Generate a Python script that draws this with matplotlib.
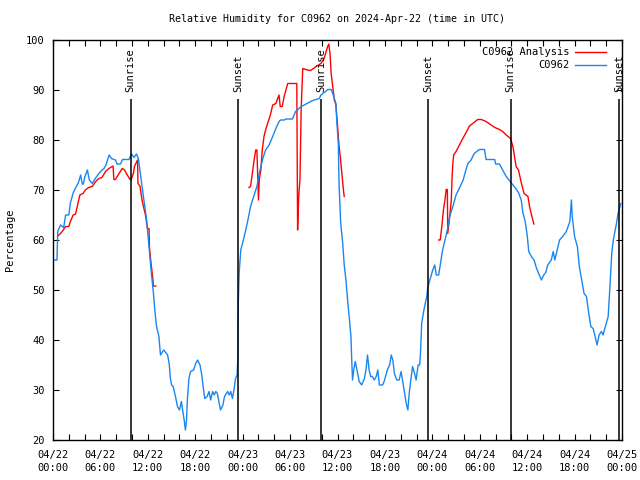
import numpy as np
import matplotlib
matplotlib.use('Agg')
import matplotlib.pyplot as plt

nan = np.nan

# hours after 04/22 00:00 UTC, observed relative humidity (%)
obs_hours = [0.2, 0.5, 0.6, 0.95, 1.35, 1.6, 2.0, 2.2, 2.55, 2.85, 3.2, 3.5, 3.7, 3.85, 4.0, 4.35, 4.6,
             4.97, 5.3, 5.8, 6.2, 6.45, 6.7, 7.1, 7.4, 7.9, 8.1, 8.55, 8.8, 9.6, 9.95, 10.25, 10.55, 10.8,
             11.1, 11.5, 11.85, 12.15, 12.45, 12.7, 12.9, 13.1, 13.4, 13.6, 14.0, 14.5, 14.7, 14.85, 15.0,
             15.2, 15.5, 15.75, 16.0, 16.25, 16.4, 16.6, 16.75, 16.9, 17.0, 17.2, 17.4, 17.8, 18.05, 18.3,
             18.6, 18.8, 19.0, 19.2, 19.5, 19.75, 19.95, 20.2, 20.4, 20.6, 20.8, 21.0, 21.2, 21.5, 21.7,
             22.1, 22.3, 22.5, 22.7, 22.9, 23.1, 23.3, 23.42, 23.45, 23.55, 23.76, 24.2, 24.6, 25.0, 25.45,
             25.8, 26.1, 26.5, 26.9, 27.35, 27.8, 28.2, 28.6, 28.8, 29.25, 29.5, 30.3, 30.7, 31.4, 31.8,
             32.6, 33.05, 33.7, 33.9, 34.5, 34.75, 35.2, 35.4, 35.8, 35.9, 36.1, 36.2, 36.4, 36.65, 36.85,
             37.07, 37.3, 37.5, 37.7, 37.8, 37.9, 38.05, 38.25, 38.55, 38.75, 39.06, 39.4, 39.6, 39.8, 40.0,
             40.2, 40.4, 40.65, 40.9, 41.1, 41.3, 41.7, 41.9, 42.3, 42.6, 42.8, 43.0, 43.2, 43.5, 43.8,
             44.05, 44.25, 44.5, 44.7, 44.9, 45.1, 45.3, 45.5, 45.75, 45.95, 46.2, 46.4, 46.5, 46.65, 46.9,
             47.1, 47.3, 47.4, 47.6, 48.05, 48.3, 48.5, 48.8, 49.1, 49.3, 49.5, 49.9, 50.2, 50.6, 51.0,
             51.4, 51.9, 52.3, 52.5, 52.9, 53.3, 53.95, 54.6, 54.8, 55.9, 56.0, 56.5, 56.9, 57.35, 57.8,
             58.2, 58.6, 58.9, 59.25, 59.45, 59.75, 60.0, 60.2, 60.5, 60.9, 61.15, 61.4, 61.6, 61.8, 62.1,
             62.35, 62.6, 63.05, 63.3, 63.5, 63.8, 64.1, 64.5, 64.95, 65.4, 65.6, 65.7, 66.0, 66.35, 66.6,
             66.9, 67.2, 67.5, 67.8, 68.05, 68.35, 68.55, 68.85, 69.1, 69.4, 69.6, 69.9, 70.25, 70.45,
             70.7, 70.9, 71.3, 71.5, 71.85]
obs_rh = [56, 56, 61.7, 63, 62.5, 65, 65, 67.4, 69.4, 70.4, 71.4, 73, 71.2, 71.2, 72.5, 74, 72,
          71.3, 72.2, 73.3, 74, 74.3, 75, 77, 76.3, 76, 75.2, 75.2, 76.1, 76.1, 77.2, 76.5, 77.2, 76.3,
          72.7, 68, 64, 58.7, 53.3, 49.5, 45.7, 42.7, 40.7, 37, 38, 37, 35.3, 32.4, 31,
          30.7, 28.7, 26.7, 26, 27.7, 26, 24, 22, 24, 28, 32.3, 33.7, 34, 35.3, 36,
          35, 33.3, 30.7, 28.3, 28.7, 29.7, 28, 29.7, 29, 29.7, 29.3, 27.7, 26, 27, 28.7,
          29.7, 29, 29.7, 28.3, 30, 32.3, 33, 38, 47.5, 53.3, 58, 60.7, 63.5, 66.7, 69,
          70.7, 73.3, 76, 78, 79, 80.7, 82.3, 83.7, 84, 84, 84.2, 84.2, 85.7, 86.7, 87,
          87.7, 88, 88.3, 89, 89.7, 90.1, 90.1, 89.3, 87.3, 84, 79.3, 71, 63.5, 59.5, 55,
          52, 47.5, 44.3, 40.7, 36, 32, 34, 35.7, 33.3, 31.7, 31, 32.3, 34, 37, 34,
          32.7, 32.7, 32, 32.7, 34, 31, 31, 31.7, 34, 35, 37, 36, 33.3, 32, 32,
          33.7, 31.7, 29.3, 27.3, 26, 29.7, 32.3, 34.7, 33.3, 32, 35, 35, 37.3, 43.3, 45.7,
          47.3, 48.7, 50.3, 51.5, 54, 55, 53, 53, 56, 58, 59.3, 62, 64.7, 66.7, 69,
          70.3, 72, 74.3, 75.3, 76, 77.3, 78.1, 78.1, 76.1, 76.1, 75.2, 75.2, 74, 72.7, 71.8,
          71, 70.2, 69.5, 68, 65.5, 63.7, 61, 57.7, 56.8, 55.9, 54.5, 53.5, 52.8, 52, 53,
          53.5, 55, 56, 57.7, 56, 58, 60, 60.7, 61.7, 63.7, 68, 64.7, 60.7, 58.7, 54.7,
          52, 49.3, 48.7, 45.3, 42.7, 42.3, 41, 39, 41, 41.7, 41, 42.7, 44.7, 50,
          57.3, 60, 63.3, 65.3, 67.3]

# analysis (NaN separates the three runs)
ana_hours = [0.6, 0.95, 1.3, 1.58, 2.0, 2.2, 2.55, 2.85, 3.07, 3.4, 3.8, 4.1, 4.5, 4.97, 5.4, 5.8, 6.2,
             6.65, 7.07, 7.6, 7.7, 7.9, 8.35, 8.77, 9.06, 9.4, 9.75, 9.9, 10.2, 10.3, 10.6, 10.7, 10.75,
             11.0, 11.3, 11.6, 11.7, 11.95, 12.15, 12.2, 12.36, 12.5, 12.65, 12.7, 13.0, nan,
             24.8, 25.0, 25.25, 25.45, 25.65, 25.8, 25.9, 26.0, 26.1, 26.3, 26.5, 26.7, 26.9, 27.15,
             27.5, 27.8, 28.2, 28.6, 28.75, 29.0, 29.25, 29.7, 30.85, 30.95, 31.1, 31.25, 31.4, 31.6,
             32.2, 32.6, 33.3, 33.9, 34.3, 34.75, 34.9, 35.05, 35.2, 35.4, 35.6, 35.8, 36.0, 36.2,
             36.35, 36.55, 36.75, 36.85, nan,
             48.8, 49.0, 49.2, 49.4, 49.6, 49.75, 49.9, 49.95, 50.15, 50.4, 50.5, 50.6, 50.7, 51.0,
             51.2, 51.65, 52.1, 52.7, 53.1, 53.75, 54.2, 54.8, 55.45, 55.9, 56.5, 56.9, 57.35, 57.9,
             58.2, 58.6, 58.9, 59.25, 59.6, 60.1, 60.3, 60.6, 60.85]
ana_rh = [60.8, 61.3, 62, 62.7, 62.7, 63.7, 65, 65.2, 66.7, 69, 69.3, 70, 70.5, 70.7, 71.7, 72.3, 72.5,
          73.7, 74.3, 74.8, 72.1, 72.1, 73.3, 74.3, 74, 73, 72.1, 72.1, 73.5, 74.7, 75.7, 76, 71.3,
          70.8, 67.7, 65.7, 65, 62.3, 62.3, 58.7, 56, 54, 52, 50.8, 50.8, nan,
          70.5, 70.7, 73.7, 76, 78, 78, 72.7, 68, 72, 74, 78.3, 80.7, 82, 83.3,
          85, 87, 87.3, 89, 86.7, 86.7, 88.7, 91.3, 91.3, 62, 69, 72, 86, 94.3,
          94, 93.9, 94.7, 95.3, 96.3, 98.7, 99.2, 97.3, 93.3, 90.7, 88, 87, 83, 78.7,
          76.7, 73.3, 70, 68.7, nan,
          60, 60, 62.7, 66, 68, 70.1, 70.1, 61.3, 64, 68, 72.7, 75.3, 77, 77.7,
          78.3, 79.7, 81, 82.8, 83.3, 84.1, 84.1, 83.7, 83, 82.5, 82.1, 81.7, 81, 80.3,
          78.7, 74.7, 74, 71.5, 69.3, 68.7, 66.7, 64.7, 63.2]

sunrise_hours = [9.82, 33.9, 57.92]
sunset_hours = [23.42, 47.48, 71.6]

tick_hours = list(range(0, 73, 6))
tick_days = ['04/22'] * 4 + ['04/23'] * 4 + ['04/24'] * 4 + ['04/25']
tick_times = ['00:00', '06:00', '12:00', '18:00'] * 3 + ['00:00']

plt.rcParams['font.family'] = ['DejaVu Sans Mono']
fs = 7.5

fig = plt.figure(figsize=(6.4, 4.8), dpi=100)
ax = fig.add_axes([53 / 640, 40 / 480, 569 / 640, 400 / 480])

ax.plot(ana_hours, ana_rh, color='#ff0000', lw=1.0, label='C0962 Analysis')
ax.plot(obs_hours, obs_rh, color='#1a86f0', lw=1.0, label='C0962')

for h in sunrise_hours:
    ax.vlines(h, 20, 88.2, color='black', lw=1.1)
    ax.text(h, 89.6, 'Sunrise', rotation=90, ha='center', va='bottom', fontsize=fs)
for h in sunset_hours:
    ax.vlines(h, 20, 88.2, color='black', lw=1.1)
    ax.text(h, 89.6, 'Sunset', rotation=90, ha='center', va='bottom', fontsize=fs)

ax.set_xlim(0, 72)
ax.set_ylim(20, 100)
ax.set_xticks(tick_hours)
ax.set_xticklabels([d + '\n' + t for d, t in zip(tick_days, tick_times)], fontsize=fs, linespacing=1.45)
ax.set_xticks(np.arange(0, 73, 2), minor=True)
ax.set_yticks(np.arange(20, 101, 10))
ax.tick_params(axis='y', labelsize=fs)
ax.tick_params(which='both', direction='in', top=True, right=True, length=4, width=0.8)
ax.tick_params(axis='x', pad=7)
ax.tick_params(axis='y', pad=6)
for sp in ax.spines.values():
    sp.set_linewidth(1.0)

ax.set_ylabel('Percentage', fontsize=fs)
ax.yaxis.set_label_coords(-0.066, 0.5)

leg = ax.legend(loc='upper right', frameon=False, markerfirst=False, fontsize=fs,
                handlelength=3.0, handletextpad=0.5, labelspacing=0.3,
                bbox_to_anchor=(0.988, 1.005))

fig.text(337 / 640, 1 - 19 / 480, 'Relative Humidity for C0962 on 2024-Apr-22 (time in UTC)',
         ha='center', va='center', fontsize=7.2)

fig.savefig('out.png', dpi=100)
